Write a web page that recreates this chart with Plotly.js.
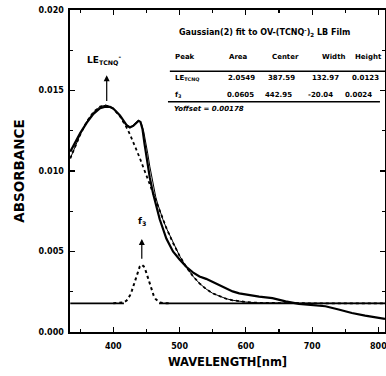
<!DOCTYPE html>
<html>
<head>
<meta charset="utf-8">
<script src="https://cdn.plot.ly/plotly-3.0.1.min.js"></script>
<style>html,body{margin:0;padding:0;background:#fff;}#chart{width:386px;height:376px;}</style>
</head>
<body>
<div id="chart"></div>
<script>
// Measured spectrum (thick solid)
const dataWl = [335,340,350,360,370,380,388,395,400,410,420,425,430,435,438,441,444,447,450,455,460,470,480,490,500,510,520,530,540,550,560,570,580,590,600,620,640,660,680,700,720,740,760,780,800,810];
const dataAbs = [0.01120,0.01160,0.01235,0.01300,0.01355,0.01390,0.01400,0.01398,0.01388,0.01345,0.01285,0.01270,0.01280,0.01300,0.01312,0.01305,0.01260,0.01170,0.01080,0.00960,0.00860,0.00700,0.00580,0.00500,0.00450,0.00405,0.00370,0.00345,0.00330,0.00310,0.00290,0.00270,0.00252,0.00240,0.00232,0.00220,0.00210,0.00190,0.00175,0.00168,0.00160,0.00140,0.00118,0.00102,0.00090,0.00082];

// Fit grid
const fitWl = [335,340,350,360,370,380,388,395,400,410,415,420,425,428,431,434,437,440,443,446,449,452,455,458,461,464,467,470,475,480,490,500,510,520,530,540,550,560,570,580,590,600,620,650,700,750,810];
// LE_TCNQ Gaussian component (dotted)
const leAbs = [0.01078,0.01130,0.01226,0.01307,0.01366,0.01400,0.01408,0.01400,0.01387,0.01340,0.01308,0.01270,0.01228,0.01200,0.01172,0.01142,0.01111,0.01080,0.01047,0.01014,0.00981,0.00947,0.00914,0.00880,0.00847,0.00813,0.00781,0.00749,0.00696,0.00646,0.00554,0.00473,0.00404,0.00347,0.00302,0.00267,0.00240,0.00221,0.00207,0.00197,0.00190,0.00186,0.00181,0.00179,0.00178,0.00178,0.00178];
// Cumulative fit (thin solid)
const fitAbs = [0.01078,0.01130,0.01226,0.01307,0.01366,0.01400,0.01408,0.01400,0.01387,0.01341,0.01313,0.01287,0.01276,0.01279,0.01290,0.01303,0.01312,0.01310,0.01287,0.01243,0.01181,0.01107,0.01030,0.00958,0.00894,0.00839,0.00795,0.00755,0.00697,0.00646,0.00554,0.00473,0.00404,0.00347,0.00302,0.00267,0.00240,0.00221,0.00207,0.00197,0.00190,0.00186,0.00181,0.00179,0.00178,0.00178,0.00178];

// f3 Gaussian component (dotted)
const f3Wl = [400,410,415,420,425,428,431,434,437,440,443,446,449,452,455,458,461,464,467,470,475,485];
const f3Abs = [0.00178,0.00179,0.00183,0.00195,0.00226,0.00257,0.00296,0.00339,0.00379,0.00408,0.00418,0.00407,0.00378,0.00338,0.00294,0.00256,0.00225,0.00204,0.00191,0.00184,0.00179,0.00178];

// Offset baseline (solid)
const baseWl = [335,416,440,469,810];
const baseAbs = [0.00178,0.00178,null,0.00178,0.00178];

// Table
const tableTitle = 'Gaussian(2) fit to OV-(TCNQ<sup>-</sup>)<sub>2</sub> LB Film';
const tableHeader = ['Peak','Area','Center','Width','Height'];
const row1 = ['LE<sub>TCNQ</sub>','2.0549','387.59','132.97','0.0123'];
const row2 = ['f<sub>3</sub>','0.0605','442.95','-20.04','0.0024'];
const yoffsetText = '<i>Yoffset = 0.00178</i>';

const xTicks = [400,500,600,700,800];
const yTicks = [0.000,0.005,0.010,0.015,0.020];

const F = 'DejaVu Sans';
const black = '#000';

const traces = [
  {x: baseWl, y: baseAbs, mode:'lines', line:{color:black, width:1.6}, connectgaps:false},
  {x: f3Wl, y: f3Abs, mode:'lines', line:{color:black, width:2, dash:'dot'}},
  {x: fitWl, y: leAbs, mode:'lines', line:{color:black, width:1.8, dash:'dot'}},
  {x: fitWl, y: fitAbs, mode:'lines', line:{color:black, width:1}},
  {x: dataWl, y: dataAbs, mode:'lines', line:{color:black, width:2.2}}
];

const colX1 = [0.327,0.535,0.683,0.837,0.948];
const colX2 = [0.327,0.546,0.670,0.811,0.937];
const colX3 = [0.327,0.540,0.663,0.794,0.917];
const tf = {family:F, size:7, color:black, weight:'bold'};
const ann = [];
tableHeader.forEach((t,i)=>ann.push({xref:'paper',yref:'paper',x:colX1[i],y:0.855,text:t,showarrow:false,font:tf,xanchor:i===0?'left':'center',yanchor:'middle'}));
row1.forEach((t,i)=>ann.push({xref:'paper',yref:'paper',x:colX2[i],y:0.790,text:t,showarrow:false,font:tf,xanchor:i===0?'left':'center',yanchor:'middle'}));
row2.forEach((t,i)=>ann.push({xref:'paper',yref:'paper',x:colX3[i],y:0.736,text:t,showarrow:false,font:tf,xanchor:i===0?'left':'center',yanchor:'middle'}));
ann.push({xref:'paper',yref:'paper',x:0.619,y:0.929,text:tableTitle,showarrow:false,font:{family:F,size:8,color:black,weight:'bold'},xanchor:'center',yanchor:'middle'});
ann.push({xref:'paper',yref:'paper',x:0.324,y:0.6925,text:yoffsetText,showarrow:false,font:tf,xanchor:'left',yanchor:'middle'});
// LE label and arrow
ann.push({x:386,y:0.0169,text:'LE<sub>TCNQ</sub><sup>-</sup>',showarrow:false,font:{family:F,size:9,color:black,weight:'bold'},xanchor:'center',yanchor:'middle'});
ann.push({x:390,y:0.01594,ax:390,ay:0.01425,axref:'x',ayref:'y',text:'',showarrow:true,arrowhead:2,arrowsize:1,arrowwidth:1.2,arrowcolor:black});
// f3 label and arrow
ann.push({x:442.95,y:0.00685,text:'f<sub>3</sub>',showarrow:false,font:{family:F,size:9,color:black,weight:'bold'},xanchor:'center',yanchor:'middle'});
ann.push({x:442.95,y:0.00578,ax:442.95,ay:0.00445,axref:'x',ayref:'y',text:'',showarrow:true,arrowhead:2,arrowsize:1,arrowwidth:1.2,arrowcolor:black});

const layout = {
  width:386, height:376,
  margin:{l:70, r:1, t:10, b:44},
  paper_bgcolor:'#fff', plot_bgcolor:'#fff',
  showlegend:false,
  font:{family:F, color:black},
  xaxis:{
    range:[334.6,810], tickvals:xTicks, ticktext:xTicks.map(String),
    ticks:'inside', ticklen:5, tickwidth:1.2, tickcolor:black,
    minor:{dtick:50, tick0:350, ticks:'inside', ticklen:3, tickcolor:black},
    showline:true, linecolor:black, linewidth:1.6, mirror:'ticks',
    showgrid:false, zeroline:false,
    tickfont:{family:F, size:8, color:black, weight:'bold'},
    ticklabelstandoff:6, ticklabeloverflow:'allow',
    title:{text:'WAVELENGTH[nm]', font:{family:F, size:11.5, color:black, weight:'bold'}, standoff:8}
  },
  yaxis:{
    range:[0,0.020], tickvals:yTicks, ticktext:yTicks.map(v=>v.toFixed(3)),
    ticks:'inside', ticklen:5, tickwidth:1.2, tickcolor:black,
    minor:{dtick:0.0025, ticks:'inside', ticklen:3, tickcolor:black},
    showline:true, linecolor:black, linewidth:1.6, mirror:'ticks',
    showgrid:false, zeroline:false,
    tickfont:{family:F, size:8, color:black, weight:'bold'},
    ticklabelstandoff:3,
    title:{text:'ABSORBANCE', font:{family:F, size:13.5, color:black, weight:'bold'}, standoff:11}
  },
  shapes:[
    {type:'line', xref:'paper', yref:'paper', x0:0.317, x1:1.0, y0:0.810, y1:0.810, line:{color:black, width:1.6}},
    {type:'line', xref:'paper', yref:'paper', x0:0.311, x1:0.984, y0:0.715, y1:0.715, line:{color:black, width:1.6}}
  ],
  annotations:ann
};

Plotly.newPlot('chart', traces, layout, {displayModeBar:false, staticPlot:true});
</script>
</body>
</html>
